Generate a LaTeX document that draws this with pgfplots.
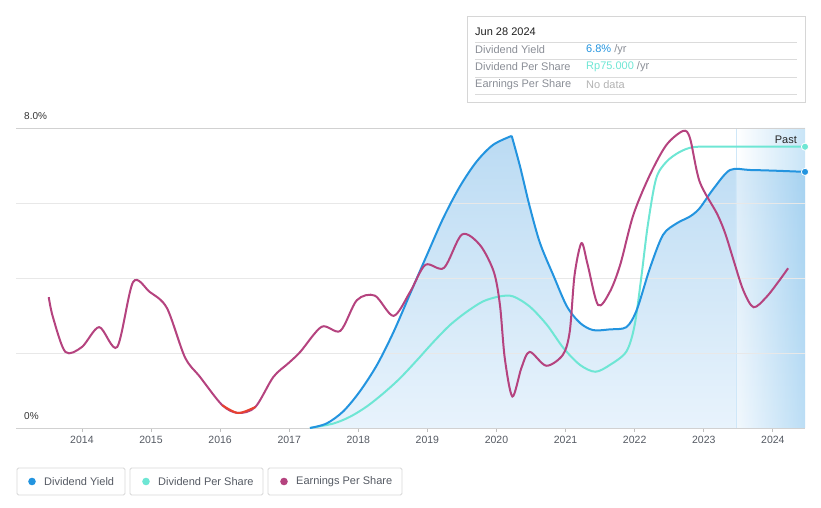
\documentclass[border=0pt]{standalone}
\usepackage{pgfplots}
\pgfplotsset{compat=1.18}
\usepackage{fontspec}
\setmainfont{Liberation Sans}
\definecolor{dy}{HTML}{2394DF}
\definecolor{dps}{HTML}{6EE6D4}
\definecolor{eps}{HTML}{B5437F}
\definecolor{epsred}{HTML}{E8412F}
\definecolor{gridc}{HTML}{E8E8E8}
\definecolor{txt}{HTML}{555A63}
\definecolor{lbl}{HTML}{8A8E96}
\definecolor{boxc}{HTML}{D6D6D6}
\definecolor{areatop}{HTML}{BBDBF3}
\definecolor{areabot}{HTML}{E8F3FC}
\begin{document}
\begin{tikzpicture}[x=1pt,y=1pt]
\begin{axis}[
  at={(16pt,80pt)}, anchor=south west,
  scale only axis, width=789pt, height=300pt,
  xmin=2013.046, xmax=2024.465, ymin=0, ymax=8,
  set layers=standard,
  clip=false,
  axis line style={draw=none},
  ytick={0,2,4,6,8}, yticklabels={},
  ymajorgrids=true,
  major grid style={gridc, line width=0.8pt},
  ytick style={draw=none},
  xtick={2014,2015,...,2024},
  xtick pos=bottom, tick align=outside,
  major tick length=4pt,
  xtick style={draw=black!25, line width=0.8pt},
  xticklabel style={font=\fontsize{10.5}{12}\selectfont, text=txt, yshift=-1pt},
  /pgf/number format/1000 sep={},
  /pgf/number format/assume math mode=true,
]
% dividend yield area (two pieces, sharp peak)
\addplot[on layer=axis background, draw=none, top color=areatop, bottom color=areabot, smooth]
  coordinates {(2017.30,0) (2017.54,0.12) (2017.78,0.44) (2018.02,0.97) (2018.27,1.68) (2018.51,2.56) (2018.75,3.58) (2018.99,4.60) (2019.23,5.60) (2019.47,6.44) (2019.71,7.10) (2019.95,7.55) (2020.22,7.79)} \closedcycle;
\addplot[on layer=axis background, draw=none, top color=areatop, bottom color=areabot, smooth]
  coordinates {(2020.22,7.79) (2020.34,6.98) (2020.48,5.91) (2020.63,4.93) (2020.83,4.04) (2021.02,3.24) (2021.21,2.80) (2021.40,2.61) (2021.64,2.63) (2021.88,2.69) (2022.03,3.15) (2022.22,4.26) (2022.41,5.15) (2022.61,5.46) (2022.80,5.64) (2022.94,5.86) (2023.14,6.38) (2023.38,6.88) (2023.67,6.88) (2024.05,6.86) (2024.465,6.83)} \closedcycle;
% past region
\addplot[on layer=axis background, draw=none, left color=white, right color=dy!55, fill opacity=0.45]
  coordinates {(2023.466,0) (2024.465,0) (2024.465,8) (2023.466,8)} \closedcycle;
\addplot[on layer=axis background, draw=dy!22, line width=0.6pt] coordinates {(2023.466,0) (2023.466,8)};
% grid emphasis top/bottom
\addplot[black!18, line width=0.9pt] coordinates {(2013.046,8) (2024.465,8)};
\addplot[black!18, line width=0.9pt] coordinates {(2013.046,0) (2024.465,0)};
% dividend per share
\addplot[dps, line width=2pt, smooth]
  coordinates {(2017.30,0) (2017.64,0.12) (2017.88,0.30) (2018.12,0.57) (2018.36,0.92) (2018.60,1.32) (2018.85,1.81) (2019.09,2.30) (2019.33,2.75) (2019.57,3.10) (2019.81,3.38) (2020.05,3.51) (2020.24,3.51) (2020.48,3.24) (2020.73,2.75) (2020.97,2.13) (2021.21,1.68) (2021.43,1.50) (2021.64,1.68) (2021.88,2.04) (2022.00,2.75) (2022.10,4.08) (2022.19,5.41) (2022.31,6.65) (2022.46,7.10) (2022.65,7.36) (2022.85,7.49) (2023.20,7.50) (2024.465,7.50)};
% dividend yield line
\addplot[dy, line width=2pt, smooth]
  coordinates {(2017.30,0) (2017.54,0.12) (2017.78,0.44) (2018.02,0.97) (2018.27,1.68) (2018.51,2.56) (2018.75,3.58) (2018.99,4.60) (2019.23,5.60) (2019.47,6.44) (2019.71,7.10) (2019.95,7.55) (2020.22,7.79)};
\addplot[dy, line width=2pt, smooth]
  coordinates {(2020.22,7.79) (2020.34,6.98) (2020.48,5.91) (2020.63,4.93) (2020.83,4.04) (2021.02,3.24) (2021.21,2.80) (2021.40,2.61) (2021.64,2.63) (2021.88,2.69) (2022.03,3.15) (2022.22,4.26) (2022.41,5.15) (2022.61,5.46) (2022.80,5.64) (2022.94,5.86) (2023.14,6.38) (2023.38,6.88) (2023.67,6.88) (2024.05,6.86) (2024.465,6.83)};
% earnings per share
\addplot[eps, line width=2pt, smooth]
  coordinates {(2013.52,3.49) (2013.58,2.96) (2013.76,2.03) (2014.00,2.16) (2014.25,2.69) (2014.51,2.16) (2014.74,3.89) (2014.98,3.63) (2015.23,3.2) (2015.49,1.89) (2015.71,1.36) (2016.03,0.61) (2016.26,0.40) (2016.51,0.56) (2016.77,1.36) (2016.99,1.73) (2017.16,2.03) (2017.47,2.70) (2017.74,2.59) (2017.98,3.41) (2018.24,3.53) (2018.51,2.99) (2018.75,3.63) (2018.97,4.35) (2019.24,4.27) (2019.50,5.16) (2019.76,4.88) (2019.96,4.17) (2020.05,3.28) (2020.12,1.86) (2020.23,0.84) (2020.36,1.60) (2020.48,2.03) (2020.72,1.66) (2020.96,1.95) (2021.06,2.57) (2021.13,4.08) (2021.23,4.93) (2021.32,4.35) (2021.47,3.28) (2021.64,3.63) (2021.79,4.35) (2021.98,5.68) (2022.22,6.75) (2022.46,7.55) (2022.70,7.92) (2022.80,7.73) (2022.94,6.57) (2023.19,5.72) (2023.31,5.19) (2023.43,4.48) (2023.57,3.68) (2023.72,3.22) (2023.91,3.50) (2024.10,3.95) (2024.22,4.26)};
\addplot[epsred, line width=2pt, smooth]
  coordinates {(2016.03,0.61) (2016.26,0.40) (2016.51,0.56)};
% end markers
\addplot[only marks, mark=*, mark size=3.6pt, mark options={fill=dps, draw=white, line width=0.8pt}] coordinates {(2024.465,7.50)};
\addplot[only marks, mark=*, mark size=3.6pt, mark options={fill=dy, draw=white, line width=0.8pt}] coordinates {(2024.465,6.83)};
\end{axis}
\path (0,0) rectangle (821,508);
% y labels and Past
\node[anchor=west, font=\fontsize{10}{12}\selectfont, text=black!80, inner sep=0] at (24,392) {8.0\%};
\node[anchor=west, font=\fontsize{10}{12}\selectfont, text=black!80, inner sep=0] at (24,92) {0\%};
\node[anchor=east, font=\fontsize{11}{13}\selectfont, text=black!85, inner sep=0] at (797,368) {Past};
% tooltip
\draw[boxc, line width=0.9pt] (467,492) rectangle (805,406);
\node[anchor=west, font=\fontsize{11}{13}\selectfont, text=black!88, inner sep=0] at (475,476) {Jun 28 2024};
\foreach \yy in {466,449,431,414} { \draw[black!14, line width=0.8pt] (475,\yy) -- (797,\yy); }
\node[anchor=west, font=\fontsize{11}{13}\selectfont, text=lbl, inner sep=0] at (475,458) {Dividend Yield};
\node[anchor=west, font=\fontsize{11}{13}\selectfont, text=lbl, inner sep=0] at (475,441) {Dividend Per Share};
\node[anchor=west, font=\fontsize{11}{13}\selectfont, text=lbl, inner sep=0] at (475,423) {Earnings Per Share};
\node[anchor=west, font=\fontsize{11}{13}\selectfont, inner sep=0] at (586,458) {\textcolor{dy}{6.8\%} \textcolor{lbl}{/yr}};
\node[anchor=west, font=\fontsize{11}{13}\selectfont, inner sep=0] at (586,441) {\textcolor{dps}{Rp75.000} \textcolor{lbl}{/yr}};
\node[anchor=west, font=\fontsize{11}{13}\selectfont, text=black!30, inner sep=0] at (586,423) {No data};
% legend
\draw[boxc, line width=0.9pt, rounded corners=1.5pt] (17,40) rectangle (125,13);
\draw[boxc, line width=0.9pt, rounded corners=1.5pt] (130,40) rectangle (263,13);
\draw[boxc, line width=0.9pt, rounded corners=1.5pt] (268,40) rectangle (402,13);
\fill[dy] (32,26.5) circle (3.8);
\fill[dps] (146,26.5) circle (3.8);
\fill[eps] (284,26.5) circle (3.8);
\node[anchor=west, font=\fontsize{11}{13}\selectfont, text=txt, inner sep=0] at (44,26.5) {Dividend Yield};
\node[anchor=west, font=\fontsize{11}{13}\selectfont, text=txt, inner sep=0] at (158,26.5) {Dividend Per Share};
\node[anchor=west, font=\fontsize{11}{13}\selectfont, text=txt, inner sep=0] at (296,26.5) {Earnings Per Share};
\end{tikzpicture}
\end{document}
